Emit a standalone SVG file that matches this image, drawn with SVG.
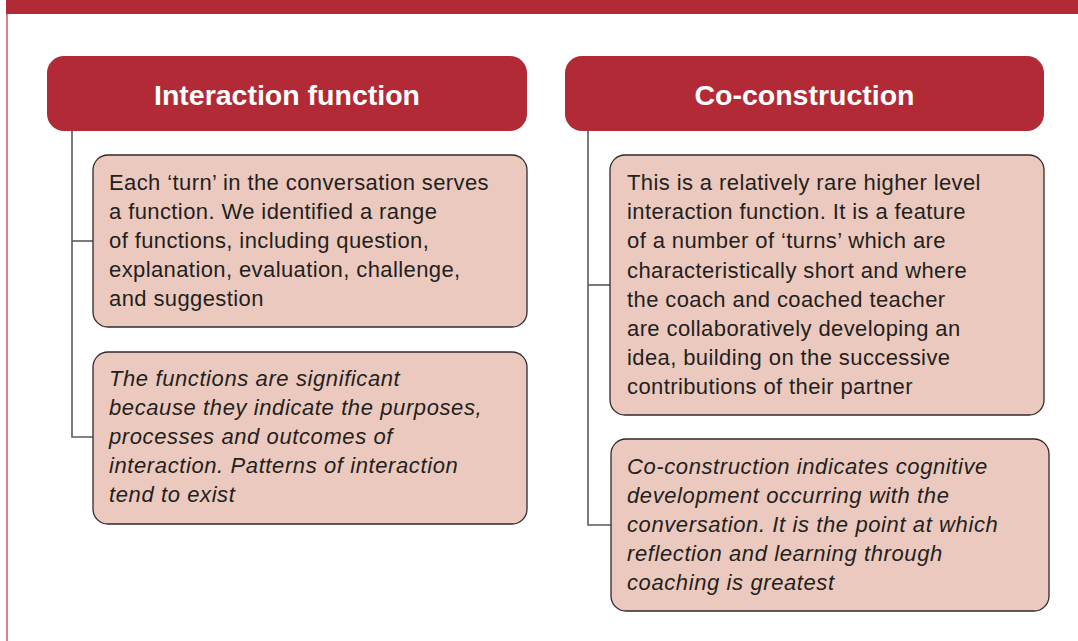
<svg xmlns="http://www.w3.org/2000/svg" width="1078" height="641" viewBox="0 0 1078 641">
<style>
.hdr{fill:#b22a35;}
.hdrt{font-family:"Liberation Sans",Arial,sans-serif;font-weight:bold;font-size:28.5px;fill:#ffffff;text-anchor:middle;}
.box{fill:#ecc9be;stroke:#2e2a2b;stroke-width:1.3;}
.t{font-family:"Liberation Sans",Arial,sans-serif;font-size:22px;letter-spacing:0.4px;fill:#231f20;}
.i{font-style:italic;letter-spacing:0.6px;}
.con{fill:none;stroke:#5a5a5a;stroke-width:1.6;}
</style>
<rect x="0" y="0" width="1078" height="641" fill="#ffffff"/>
<rect x="6" y="0" width="1072" height="14" fill="#b22a35"/>
<line x1="7" y1="14" x2="7" y2="641" stroke="#d0646f" stroke-width="1.6"/>
<g id="connectors">
<polyline class="con" points="72,131 72,437 93,437"/>
<line class="con" x1="72" y1="241" x2="93" y2="241"/>
<polyline class="con" points="588,131 588,525 611,525"/>
<line class="con" x1="588" y1="285" x2="610" y2="285"/>
</g>
<g id="header-left">
<rect class="hdr" x="47" y="56" width="480" height="75" rx="17"/>
<text class="hdrt" x="287" y="105">Interaction function</text>
</g>
<g id="header-right">
<rect class="hdr" x="565" y="56" width="479" height="75" rx="17"/>
<text class="hdrt" x="804.5" y="105">Co-construction</text>
</g>
<g id="box-left-1">
<rect class="box" x="93" y="155" width="434" height="172" rx="15"/>
<text class="t" x="109" y="190">Each ‘turn’ in the conversation serves</text>
<text class="t" x="109" y="219">a function. We identified a range</text>
<text class="t" x="109" y="248">of functions, including question,</text>
<text class="t" x="109" y="277">explanation, evaluation, challenge,</text>
<text class="t" x="109" y="306">and suggestion</text>
</g>
<g id="box-left-2">
<rect class="box" x="93" y="352" width="434" height="172" rx="15"/>
<text class="t i" x="109" y="386">The functions are significant</text>
<text class="t i" x="109" y="415">because they indicate the purposes,</text>
<text class="t i" x="109" y="444">processes and outcomes of</text>
<text class="t i" x="109" y="473">interaction. Patterns of interaction</text>
<text class="t i" x="109" y="502">tend to exist</text>
</g>
<g id="box-right-1">
<rect class="box" x="610" y="155" width="434" height="260" rx="15"/>
<text class="t" x="627" y="190">This is a relatively rare higher level</text>
<text class="t" x="627" y="219">interaction function. It is a feature</text>
<text class="t" x="627" y="248">of a number of ‘turns’ which are</text>
<text class="t" x="627" y="278">characteristically short and where</text>
<text class="t" x="627" y="307">the coach and coached teacher</text>
<text class="t" x="627" y="336">are collaboratively developing an</text>
<text class="t" x="627" y="365">idea, building on the successive</text>
<text class="t" x="627" y="394">contributions of their partner</text>
</g>
<g id="box-right-2">
<rect class="box" x="611" y="439" width="438" height="172" rx="15"/>
<text class="t i" x="627" y="474">Co-construction indicates cognitive</text>
<text class="t i" x="627" y="503">development occurring with the</text>
<text class="t i" x="627" y="532">conversation. It is the point at which</text>
<text class="t i" x="627" y="561">reflection and learning through</text>
<text class="t i" x="627" y="590">coaching is greatest</text>
</g>
</svg>
